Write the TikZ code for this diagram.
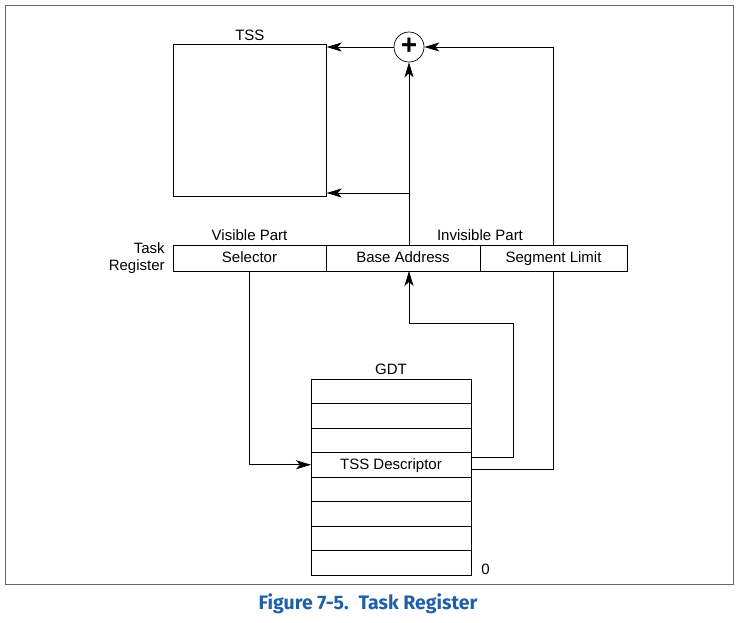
\documentclass[tikz,border=0pt]{standalone}
\usepackage{fontspec}
\setmainfont{Liberation Sans}
\newfontfamily\capfont{Fira Sans}
\usetikzlibrary{positioning,arrows.meta}
\definecolor{capblue}{RGB}{32,96,168}

\begin{document}
\begin{tikzpicture}[x=1pt,y=-1pt,line width=0.7pt,
		lbl/.style={font=\fontsize{15}{17}\selectfont,inner sep=0pt},
		cell/.style={draw,fill=white,lbl,outer sep=0pt,text height=11pt,text depth=3pt,minimum height=26pt,anchor=north west},
		row/.style={draw,outer sep=0pt,minimum width=160pt,minimum height=24.5pt,anchor=north west},
		arr/.style={-{Stealth[length=15pt,width=9pt,inset=4pt]}}]
		\useasboundingbox (0,0) rectangle (736,622);
		\draw[black!60,line width=1pt] (5,5) rectangle (733,584);
		% TSS and adder
		\node[draw,minimum width=153pt,minimum height=152pt,anchor=north west] (tss) at (173,44) {};
		\node[lbl,above=3pt of tss] (tsslbl) {TSS};
		\node[draw,circle,minimum size=30pt,inner sep=0pt,font=\bfseries\fontsize{28}{28}\selectfont] (plus) at (409,47) {\raisebox{1pt}{+}};
		% task register
		\node[cell,minimum width=153pt] (sel) at (173,245) {Selector};
		\node[cell,minimum width=154pt] (base) at (sel.north east) {Base Address};
		\node[cell,minimum width=147pt] (lim) at (base.north east) {Segment Limit};
		\node[lbl,align=right,left=8pt of sel] (treg) {Task\\Register};
		\node[lbl,above=4pt of sel] (vis) {Visible Part};
		\node[lbl,above=4pt of base.north east] (invis) {Invisible Part};
		% GDT
		\foreach \i in {1,...,8}{
			\node[row] (g\i) at (311,{379+24.5*(\i-1)}) {};
		}
		\node[lbl,text height=11pt,text depth=3pt] (desc) at ([yshift=-1pt]g4) {TSS Descriptor};
		\node[lbl,above=4pt of g1] (gdtlbl) {GDT};
		\node[lbl,anchor=south west] (zero) at ([xshift=10pt]g8.south east) {0};
		% connectors
		\coordinate (bt) at (409,245);
		\coordinate (split) at (409,193);
		\coordinate (bfold) at (513,323);
		\coordinate (lx) at (553,47);
		\draw[arr] (bt) -- (plus);
		\draw[arr] (plus) -- (plus -| tss.east);
		\draw[arr] (split) -- (split -| tss.east);
		\draw[arr] (sel.south) |- (g4.west);
		\draw[arr] ([yshift=7pt]g4.east) -| (bfold) -| (base.south -| bt);
		\draw ([yshift=-5pt]g4.east) -| (lim.south -| lx);
		\draw[arr] (lim.north -| lx) |- (plus);
		% caption
		\node[font=\capfont\bfseries\fontsize{19.5}{22}\selectfont,text=capblue] (cap) at (368,604) {Figure 7-5.\enspace Task Register};
\end{tikzpicture}
\end{document}
